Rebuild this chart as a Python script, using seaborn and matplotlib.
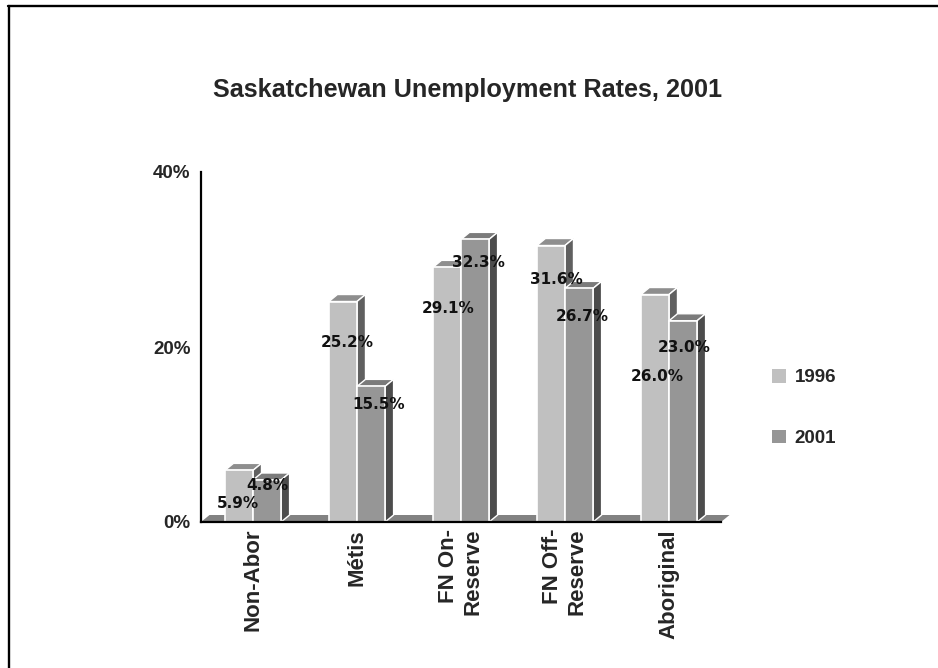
import matplotlib
matplotlib.use("Agg")
import matplotlib.pyplot as plt
from matplotlib.patches import Polygon, Patch
from matplotlib.lines import Line2D
from matplotlib import font_manager
import pandas as pd
import seaborn as sns

# ---- data ----
categories = ["Non-Abor", "Métis", "FN On-\nReserve", "FN Off-\nReserve", "Aboriginal"]
years = ["1996", "2001"]
rate_1996 = [5.9, 25.2, 29.1, 31.6, 26.0]
rate_2001 = [4.8, 15.5, 32.3, 26.7, 23.0]
y_ticks = [0, 20, 40]
title = "Saskatchewan Unemployment Rates, 2001"

# value-label nudges (pixels) relative to the top centre of each bar
label_shift_1996 = [(-1, -33), (4, -41), (1, -41), (5, -34), (2, -82)]
label_shift_2001 = [(0, -6), (8, -18), (3, -23), (3, -28), (1, -27)]

sns.set_style("white")
installed = {f.name for f in font_manager.fontManager.ttflist}
narrow = "Liberation Sans Narrow" if "Liberation Sans Narrow" in installed else "Liberation Sans"
plt.rcParams["font.family"] = [narrow, "DejaVu Sans"]

W, H = 938, 668
fig = plt.figure(figsize=(W / 100, H / 100), dpi=100)
fig.patch.set_facecolor("white")

# outer frame (top and left rules)
fig.add_artist(Line2D([8 / W, 1.0], [1 - 6 / H, 1 - 6 / H], color="black", lw=1.7))
fig.add_artist(Line2D([9 / W, 9 / W], [0, 1 - 6 / H], color="black", lw=1.7))

ax = fig.add_axes([201 / W, 1 - 522 / H, 520 / W, 350 / H])

df = pd.DataFrame({
    "category": categories * 2,
    "year": [years[0]] * len(categories) + [years[1]] * len(categories),
    "rate": rate_1996 + rate_2001,
})

front = {"1996": "#C0C0C0", "2001": "#969696"}
top_col = {"1996": "#8E8E8E", "2001": "#7B7B7B"}
side_col = {"1996": "#606060", "2001": "#4C4C4C"}

sns.barplot(data=df, x="category", y="rate", hue="year", hue_order=years,
            palette=front, saturation=1, width=0.54, errorbar=None,
            edgecolor="white", linewidth=1.2, legend=False, ax=ax)

ax.set_xlim(-0.5, len(categories) - 0.5)
ax.set_ylim(0, 40)

# depth of the pseudo-3D extrusion, in data units
ddx = 8.5 / 104
ddy = 7 / 350 * 40

# floor slab
x0f, x1f = -0.5, len(categories) - 0.5
ax.add_patch(Polygon([(x0f, 0), (x1f, 0), (x1f + ddx, ddy), (x0f + ddx, ddy)],
                     closed=True, facecolor="#828282", edgecolor="none",
                     zorder=1, clip_on=False))

shifts = {"1996": label_shift_1996, "2001": label_shift_2001}
for k, (yr, cont) in enumerate(zip(years, ax.containers)):
    base_z = 2 + 2 * k
    for i, bar in enumerate(cont):
        x, w, h = bar.get_x(), bar.get_width(), bar.get_height()
        bar.set_zorder(base_z + 1)
        bar.set_clip_on(False)
        ax.add_patch(Polygon([(x, h), (x + w, h), (x + w + ddx, h + ddy), (x + ddx, h + ddy)],
                             closed=True, facecolor=top_col[yr], edgecolor="white",
                             lw=1.0, zorder=base_z, clip_on=False))
        ax.add_patch(Polygon([(x + w, 0), (x + w + ddx, ddy), (x + w + ddx, h + ddy), (x + w, h)],
                             closed=True, facecolor=side_col[yr], edgecolor="white",
                             lw=1.0, zorder=base_z, clip_on=False))
        sx, sy = shifts[yr][i]
        ax.annotate(f"{h:.1f}%", xy=(x + w / 2, h), xytext=(sx, sy),
                    textcoords="offset pixels", ha="center", va="center",
                    fontsize=11, fontweight="bold", family="DejaVu Sans",
                    color="#111111", zorder=10, annotation_clip=False)

# axes styling
for s in ("top", "right"):
    ax.spines[s].set_visible(False)
for s in ("left", "bottom"):
    ax.spines[s].set_color("black")
    ax.spines[s].set_linewidth(1.6)
    ax.spines[s].set_zorder(6)

ax.set_yticks(y_ticks)
ax.set_yticklabels([f"{t}%" for t in y_ticks], fontsize=13.5, fontweight="bold")
ax.tick_params(axis="y", direction="out", length=4.5, width=1.6, pad=3, color="black")

ax.set_xticks([i - 0.5 for i in range(len(categories) + 1)])
ax.set_xticklabels([])
ax.set_xticks(range(len(categories)), minor=True)
ax.set_xticklabels(categories, minor=True, rotation=90, fontsize=16,
                   fontweight="bold", ha="center", va="top", multialignment="right")
ax.tick_params(axis="x", which="major", direction="out", length=5.5, width=1.6, color="black")
ax.tick_params(axis="x", which="minor", length=0, pad=5)
ax.set_xlabel("")
ax.set_ylabel("")
ax.set_facecolor("none")

fig.text(0.499, 1 - 90 / H, title, ha="center", va="center",
         fontsize=18.2, fontweight="bold")

handles = [Patch(facecolor=front[y], edgecolor="none", label=y) for y in years]
fig.legend(handles=handles, loc="upper left", bbox_to_anchor=(772 / W, 1 - 369 / H),
           frameon=False, handlelength=0.75, handleheight=0.75,
           handletextpad=0.45, labelspacing=2.3, borderpad=0, borderaxespad=0,
           prop={"weight": "bold", "size": 13.5})

fig.savefig("out.png", dpi=100, facecolor="white")
